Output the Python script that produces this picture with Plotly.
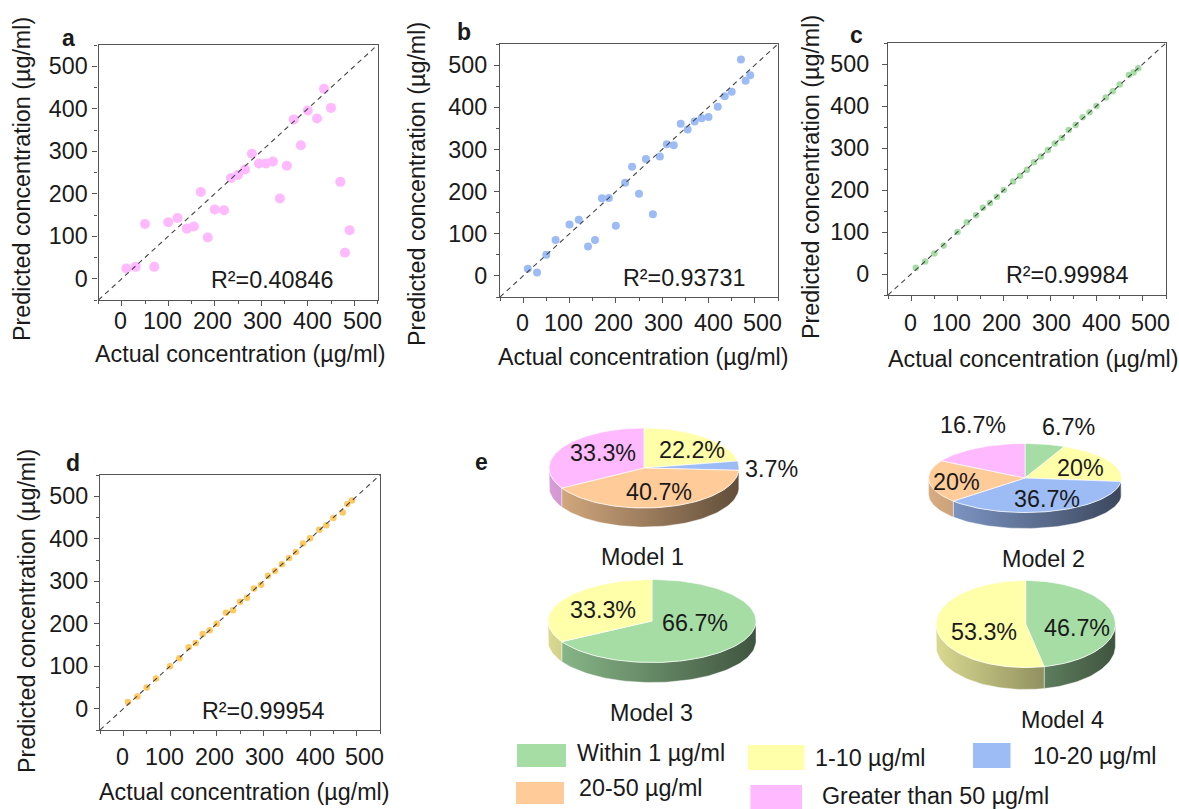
import math
import plotly.graph_objects as go

# ---------- data ----------
actual = [10, 30, 50, 70, 100, 120, 140, 155, 170, 185, 200, 220, 235, 250, 265,
          280, 295, 310, 325, 340, 355, 370, 385, 400, 420, 435, 450, 470, 480, 490]
pred_a = [24, 28, 129, 28, 133, 143, 118, 123, 204, 97, 163, 161, 237, 244, 257,
          294, 271, 271, 276, 189, 266, 375, 314, 396, 377, 447, 402, 228, 61, 114]
pred_b = [17, 8, 50, 85, 122, 133, 70, 85, 184, 185, 119, 221, 259, 195, 277,
          146, 283, 312, 310, 361, 347, 366, 374, 377, 401, 426, 437, 513, 463, 476]
pred_c = [15, 30, 49, 68, 100, 123, 140, 158, 169, 184, 200, 220, 234, 248, 266,
          280, 295, 311, 324, 343, 355, 373, 385, 400, 420, 435, 451, 474, 480, 490]
pred_d = [16, 29, 50, 71, 100, 119, 145, 155, 176, 185, 200, 226, 232, 252, 261,
          283, 292, 313, 325, 340, 355, 369, 389, 401, 421, 432, 449, 462, 482, 490]
r2_labels = ["0.40846", "0.93731", "0.99984", "0.99954"]
tick_values = [0, 100, 200, 300, 400, 500]
tick_labels = ["0", "100", "200", "300", "400", "500"]
identity_line = [-50, 550]

category_names = ["Within 1 µg/ml", "1-10 µg/ml", "10-20 µg/ml", "20-50 µg/ml", "Greater than 50 µg/ml"]
# slices run clockwise from 12 o'clock
model1_cats = ["1-10 µg/ml", "10-20 µg/ml", "20-50 µg/ml", "Greater than 50 µg/ml"]
model1_vals = [22.2, 3.7, 40.7, 33.3]
model2_cats = ["Within 1 µg/ml", "1-10 µg/ml", "10-20 µg/ml", "20-50 µg/ml", "Greater than 50 µg/ml"]
model2_vals = [6.7, 20, 36.7, 20, 16.7]
model3_cats = ["Within 1 µg/ml", "1-10 µg/ml"]
model3_vals = [66.7, 33.3]
model4_cats = ["Within 1 µg/ml", "1-10 µg/ml"]
model4_vals = [46.7, 53.3]

# ---------- style / layout ----------
W, H = 1179, 809
FONT = "Liberation Sans"
FS = 23.3
TXT = "#1a1a1a"
AXC = "#555555"
COL = dict(zip(category_names, ["#A5DDA5", "#FFFFAA", "#9DBBF5", "#FFCC99", "#FFB9FF"]))

panels = [
    dict(letter="a", ys=pred_a, color="#FFB9FF", size=10, box=(98.5, 377.5, 45, 300), standoff=0, tx=(240, 354), ty=(22, 179),
         r2=(272, 280), lab=(68, 38), xl=321),
    dict(letter="b", ys=pred_b, color="#9DBBF5", size=8, box=(500, 778, 44, 297), standoff=2, tx=(643, 357), ty=(417, 184),
         r2=(684, 278), lab=(464, 32), xl=323),
    dict(letter="c", ys=pred_c, color="#A5DDA5", size=6.5, box=(888, 1166, 43, 295), standoff=8, tx=(1033, 359), ty=(811, 177),
         r2=(1067, 275), lab=(856, 35), xl=323),
    dict(letter="d", ys=pred_d, color="#FFC860", size=6.5, box=(100, 380, 475, 730), standoff=1, tx=(244, 792), ty=(27, 611),
         r2=(263, 711), lab=(73, 463), xl=757),
]
tick_label_shift = [-1, -6, -2, 1, 5, 8]

pies = [
    dict(cats=model1_cats, vals=model1_vals, c=(644, 468), r=(95, 40), d=19),
    dict(cats=model2_cats, vals=model2_vals, c=(1025, 478), r=(96.5, 34.5), d=16),
    dict(cats=model3_cats, vals=model3_vals, c=(652, 621), r=(104, 41.5), d=20),
    dict(cats=model4_cats, vals=model4_vals, c=(1025.7, 624), r=(89.7, 43.5), d=22),
]
pie_texts = [
    ("33.3%", 603, 453), ("22.2%", 692, 450), ("40.7%", 659, 492), ("3.7%", 771, 469),
    ("16.7%", 973, 425), ("6.7%", 1068, 427), ("20%", 1080, 468), ("20%", 956, 482), ("36.7%", 1047, 499),
    ("33.3%", 603, 610), ("66.7%", 695, 623),
    ("53.3%", 984, 632), ("46.7%", 1077, 628),
]
pie_titles = [("Model 1", 642, 557), ("Model 2", 1043, 559), ("Model 3", 651, 713), ("Model 4", 1062, 720)]
legend_items = [
    ("Within 1 µg/ml", (517, 566, 744, 767), (575, 753)),
    ("1-10 µg/ml", (748, 804.5, 745, 770), (813, 758)),
    ("10-20 µg/ml", (973, 1010.5, 743, 768), (1031, 756)),
    ("20-50 µg/ml", (516, 564, 782, 804), (577, 788)),
    ("Greater than 50 µg/ml", (750.5, 802, 785, 809), (820, 796)),
]


def shade(hex_color, f):
    r, g, b = (int(hex_color[i:i + 2], 16) for i in (1, 3, 5))
    return f"rgb({r * f:.0f},{g * f:.0f},{b * f:.0f})"


fig = go.Figure()
annotations = []
shapes = []


def note(text, x, y, xref="x5", yref="y5", **kw):
    base = dict(text=text, x=x, y=y, xref=xref, yref=yref, showarrow=False,
                xanchor="center", yanchor="middle", font=dict(family=FONT, size=FS, color=TXT))
    base.update(kw)
    annotations.append(base)


layout_axes = {}
for i, p in enumerate(panels, start=1):
    x0, x1, y0, y1 = p["box"]
    suffix = "" if i == 1 else str(i)
    common = dict(range=identity_line, showgrid=False, zeroline=False, showline=True, mirror=True,
                  linecolor=AXC, linewidth=1.4, ticks="outside", ticklen=5, tickwidth=1.2, tickcolor=AXC,
                  tickmode="array", tickvals=tick_values, ticktext=tick_labels,
                  minor=dict(ticks="outside", ticklen=3, tickwidth=1, tickcolor=AXC, tickmode="linear", tick0=0, dtick=50),
                  tickfont=dict(family=FONT, size=FS, color=TXT))
    layout_axes["xaxis" + suffix] = dict(common, domain=[x0 / W, x1 / W], anchor="y" + suffix, showticklabels=False)
    layout_axes["yaxis" + suffix] = dict(common, domain=[1 - y1 / H, 1 - y0 / H], anchor="x" + suffix,
                                         ticklabelstandoff=p["standoff"])
    fig.add_trace(go.Scatter(x=actual, y=p["ys"], mode="markers", xaxis="x" + suffix, yaxis="y" + suffix,
                             marker=dict(color=p["color"], size=p["size"], line=dict(width=0))))
    fig.add_trace(go.Scatter(x=identity_line, y=identity_line, mode="lines", xaxis="x" + suffix, yaxis="y" + suffix,
                             line=dict(color="#444444", width=1.1, dash="5px,4px")))
    for v, lab, sh in zip(tick_values, tick_labels, tick_label_shift):
        note(lab, v, p["xl"], xref="x" + suffix, xshift=sh)
    note("Actual concentration (µg/ml)", *p["tx"])
    note("Predicted concentration (µg/ml)", *p["ty"], textangle=-90)
    note("R²=" + r2_labels[i - 1], *p["r2"])
    note("<b>" + p["letter"] + "</b>", *p["lab"], font=dict(family=FONT, size=23, color=TXT))

note("<b>e</b>", 481, 462, font=dict(family=FONT, size=23, color=TXT))

# overlay axes measured in figure pixels, used for the pseudo-3D pies, swatches and free text
layout_axes["xaxis5"] = dict(domain=[0, 1], range=[0, W], visible=False, anchor="y5", fixedrange=True)
layout_axes["yaxis5"] = dict(domain=[0, 1], range=[H, 0], visible=False, anchor="x5", fixedrange=True)


def arc(c, r, a0, a1, dy=0.0, n=60):
    m = max(2, int(abs(a1 - a0) / (2 * math.pi) * n) + 2)
    xs, ys = [], []
    for k in range(m):
        a = a0 + (a1 - a0) * k / (m - 1)
        xs.append(c[0] + r[0] * math.sin(a))
        ys.append(c[1] - r[1] * math.cos(a) + dy)
    return xs, ys


for p in pies:
    total = sum(p["vals"])
    edges = [0.0]
    for v in p["vals"]:
        edges.append(edges[-1] + v / total * 2 * math.pi)
    c, r, d = p["c"], p["r"], p["d"]
    # walls
    for cat, a0, a1 in zip(p["cats"], edges[:-1], edges[1:]):
        lo, hi = max(a0, math.pi / 2), min(a1, 3 * math.pi / 2)
        if hi <= lo:
            continue
        xt, yt = arc(c, r, lo, hi, n=180)
        xb, yb = arc(c, r, hi, lo, dy=d, n=180)
        fig.add_trace(go.Scatter(
            x=xt + xb + xt[:1], y=yt + yb + yt[:1], xaxis="x5", yaxis="y5", mode="lines", fill="toself",
            line=dict(color="rgba(255,255,255,0.7)", width=0.6),
            fillgradient=dict(type="horizontal", start=c[0] - r[0], stop=c[0] + r[0],
                              colorscale=[[0, shade(COL[cat], 0.85)], [1, shade(COL[cat], 0.38)]])))
    # top faces
    for cat, a0, a1 in zip(p["cats"], edges[:-1], edges[1:]):
        xs, ys = arc(c, r, a0, a1, n=180)
        fig.add_trace(go.Scatter(
            x=[c[0]] + xs + [c[0]], y=[c[1]] + ys + [c[1]], xaxis="x5", yaxis="y5", mode="lines", fill="toself",
            fillcolor=COL[cat], line=dict(color="rgba(255,255,255,0.8)", width=0.8)))

for t, x, y in pie_texts + pie_titles:
    note(t, x, y)

for name, (sx0, sx1, sy0, sy1), (tx, ty) in legend_items:
    shapes.append(dict(type="rect", xref="x5", yref="y5", x0=sx0, x1=sx1, y0=sy0, y1=sy1,
                       fillcolor=COL[name], line=dict(width=0), layer="above"))
    note(name, tx, ty, xanchor="left")

fig.update_layout(width=W, height=H, margin=dict(l=0, r=0, t=0, b=0), autosize=False,
                  paper_bgcolor="white", plot_bgcolor="rgba(0,0,0,0)", showlegend=False,
                  hovermode=False, annotations=annotations, shapes=shapes, **layout_axes)

fig.write_html("out.html", config={"displayModeBar": False},
               post_script="document.body.style.margin='0';document.body.style.overflow='hidden';")
